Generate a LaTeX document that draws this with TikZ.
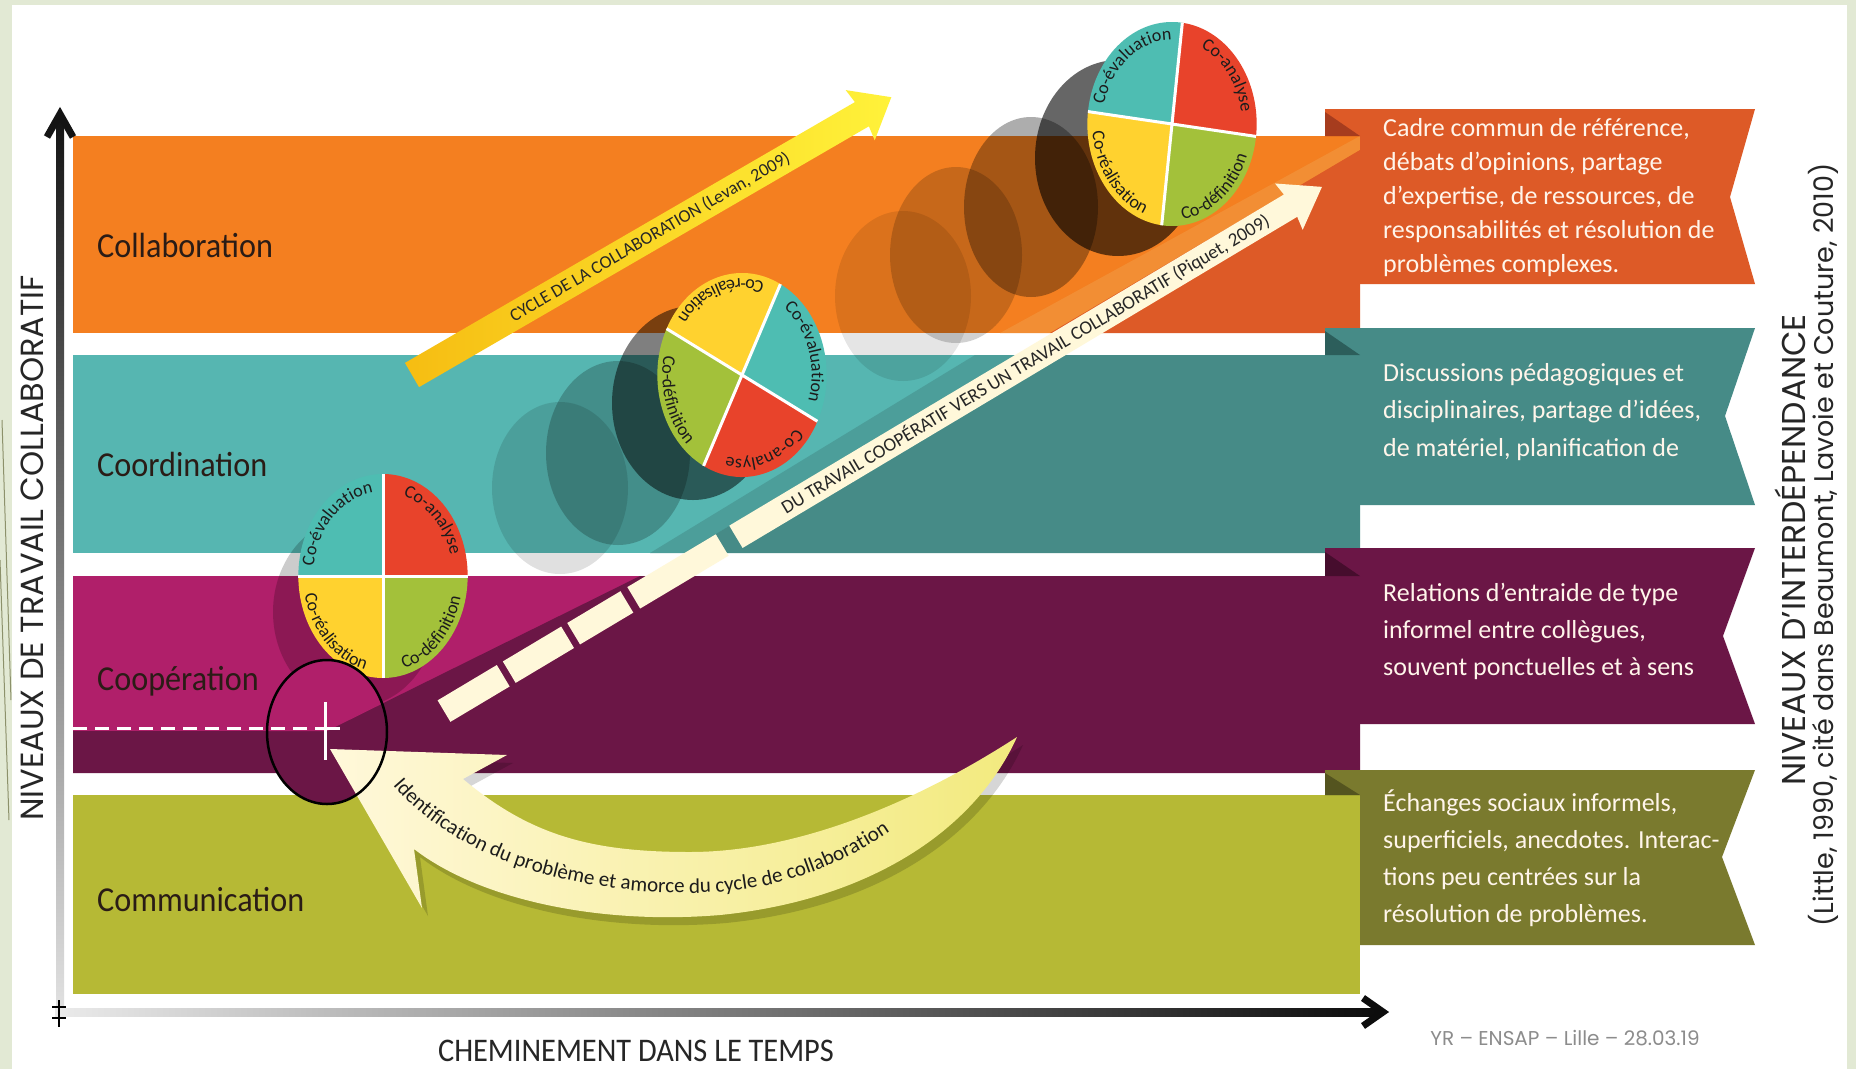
\documentclass[tikz,border=0pt]{standalone}
\usepackage{fontspec}
\setmainfont{Carlito}
\newfontfamily\condfont{Carlito}[FakeStretch=0.92]
\newfontfamily\geofont{Poppins}
\usetikzlibrary{decorations.text}

\definecolor{slidegreen}{HTML}{E2E9D4}
\definecolor{slideline}{HTML}{8C916B}
\definecolor{orangeL}{HTML}{F47F20}
\definecolor{orangeS}{HTML}{F28E34}
\definecolor{orangeD}{HTML}{DD5A27}
\definecolor{orangeF}{HTML}{A63C1E}
\definecolor{tealL}{HTML}{56B6B1}
\definecolor{tealS}{HTML}{4C9E9A}
\definecolor{tealD}{HTML}{468B87}
\definecolor{tealF}{HTML}{2C5E5B}
\definecolor{magL}{HTML}{B01F6A}
\definecolor{magD}{HTML}{6B1646}
\definecolor{magF}{HTML}{460D2D}
\definecolor{oliveL}{HTML}{B6B935}
\definecolor{oliveD}{HTML}{7A7A2E}
\definecolor{oliveF}{HTML}{54541F}
\definecolor{pieteal}{HTML}{4EBDB2}
\definecolor{piered}{HTML}{E8432B}
\definecolor{pieyellow}{HTML}{FFD22F}
\definecolor{piegreen}{HTML}{A3C13A}
\definecolor{pieink}{HTML}{1C1C1C}
\definecolor{cream}{HTML}{FFF8DA}
\definecolor{creamY}{HTML}{F2EA7E}
\definecolor{goldA}{HTML}{F6BD12}
\definecolor{goldB}{HTML}{FFF23A}
\definecolor{ribbontext}{HTML}{FFF5EA}
\definecolor{labelink}{HTML}{2A1C16}
\definecolor{footgrey}{HTML}{8C8C8C}

\newcommand\pxfont[1]{\fontsize{#1}{#1}\selectfont}
\newcommand\pietext{\pxfont{18}\color{pieink}}

% four-quadrant cycle disc: centre x, centre y (downwards), rotation
\newcommand\quadpie[3]{%
  \begin{scope}[shift={(#1,-#2)},xscale=0.83,rotate=#3]
    \fill[pieteal] (0,0) -- (90:102) arc[start angle=90,end angle=180,radius=102] -- cycle;
    \fill[piered] (0,0) -- (0:102) arc[start angle=0,end angle=90,radius=102] -- cycle;
    \fill[pieyellow] (0,0) -- (180:102) arc[start angle=180,end angle=270,radius=102] -- cycle;
    \fill[piegreen] (0,0) -- (270:102) arc[start angle=270,end angle=360,radius=102] -- cycle;
    \draw[white,line width=3pt] (0:102) -- (180:102) (90:102) -- (270:102);
    \path[decorate,decoration={text along path,text align=center,text={|\pietext|Co-évaluation}}]
      (179:84) arc[start angle=179,end angle=91,radius=84];
    \path[decorate,decoration={text along path,text align=center,text={|\pietext|Co-analyse}}]
      (89:84) arc[start angle=89,end angle=1,radius=84];
    \path[decorate,decoration={text along path,text align=center,text={|\pietext|Co-réalisation}}]
      (181:96) arc[start angle=181,end angle=269,radius=96];
    \path[decorate,decoration={text along path,text align=center,text={|\pietext|Co-définition}}]
      (271:96) arc[start angle=271,end angle=359,radius=96];
  \end{scope}}

\tikzset{
  bandlabel/.style={anchor=base west,inner sep=0pt,font=\condfont\pxfont{35},text=labelink},
  ribbonline/.style={anchor=base west,inner sep=0pt,font=\pxfont{26},text=ribbontext},
  trail/.style={fill=black,fill opacity=#1},
  sidelabel/.style={rotate=90,inner sep=0pt,font=\geofont\pxfont{#1},text=black!85},
}

\begin{document}
\begin{tikzpicture}[x=1pt,y=1pt]
\useasboundingbox (0,0) rectangle (1856,-1069);

% slide background
\fill[slidegreen] (0,0) rectangle (1856,-1069);
\fill[white] (12,-5) rectangle (1847,-1069);
\draw[slideline,line width=1pt] (2,-420) -- (11,-700);
\draw[slideline,line width=1pt] (0,-560) -- (9,-820);

% ---------- level bands ----------
% Collaboration
\fill[orangeL] (73,-136) rectangle (1360,-333);
\fill[orangeS] (1000,-333) -- (1360,-136) -- (1360,-150) -- (1050,-333) -- cycle;
\fill[orangeD] (1050,-333) -- (1360,-150) -- (1360,-333) -- cycle;
% Coordination
\fill[tealL] (73,-355) rectangle (1360,-553);
\fill[tealS] (650,-553) -- (975,-355) -- (1015,-355) -- (684,-553) -- cycle;
\fill[tealD] (684,-553) -- (1015,-355) -- (1360,-355) -- (1360,-553) -- cycle;
% Coopération
\fill[magL] (73,-576) rectangle (1360,-773);
\fill[magD] (73,-731) -- (327,-731) -- (640,-576) -- (1360,-576) -- (1360,-773) -- (73,-773) -- cycle;
% Communication
\fill[oliveL] (73,-795) rectangle (1360,-994);

% ---------- ribbons ----------
\fill[orangeD] (1325,-109) -- (1755,-109) -- (1730,-197) -- (1755,-284) -- (1360,-284) -- (1360,-136) -- (1325,-136) -- cycle;
\fill[orangeF] (1325,-112) -- (1325,-136) -- (1360,-136) -- cycle;
\fill[tealD] (1325,-328) -- (1755,-328) -- (1725,-416) -- (1755,-505) -- (1360,-505) -- (1360,-355) -- (1325,-355) -- cycle;
\fill[tealF] (1325,-331) -- (1325,-355) -- (1360,-355) -- cycle;
\fill[magD] (1325,-548) -- (1755,-548) -- (1723,-636) -- (1755,-724) -- (1360,-724) -- (1360,-576) -- (1325,-576) -- cycle;
\fill[magF] (1325,-552) -- (1325,-576) -- (1360,-576) -- cycle;
\fill[oliveD] (1325,-770) -- (1755,-770) -- (1722,-857) -- (1755,-945) -- (1360,-945) -- (1360,-795) -- (1325,-795) -- cycle;
\fill[oliveF] (1325,-773) -- (1325,-795) -- (1360,-795) -- cycle;

\foreach \t [count=\i from 0] in {{Cadre commun de référence,},{débats d’opinions, partage},{d’expertise, de ressources, de},{responsabilités et résolution de},{problèmes complexes.}}
  \node[ribbonline] (cadre\i) at (1383,{-136-34*\i}) {\t};
\foreach \t [count=\i from 0] in {{Discussions pédagogiques et},{disciplinaires, partage d’idées,},{de matériel, planification de}}
  \node[ribbonline] (discussions\i) at (1383,{-381-37.5*\i}) {\t};
\foreach \t [count=\i from 0] in {{Relations d’entraide de type},{informel entre collègues,},{souvent ponctuelles et à sens}}
  \node[ribbonline] (relations\i) at (1383,{-601-37*\i}) {\t};
\foreach \t [count=\i from 0] in {{Échanges sociaux informels,},{superficiels, anecdotes. Interac-},{tions peu centrées sur la},{résolution de problèmes.}}
  \node[ribbonline] (echanges\i) at (1383,{-811-37*\i}) {\t};

% ---------- trailing discs ----------
\fill[trail=.2] (355,-612) ellipse[x radius=82,y radius=95];
\fill[trail=.12] (560,-488) ellipse[x radius=68,y radius=86];
\fill[trail=.22] (618,-453) ellipse[x radius=72,y radius=92];
\fill[trail=.5] (693,-403) ellipse[x radius=81,y radius=97];
\fill[trail=.1] (903,-296) ellipse[x radius=68,y radius=85];
\fill[trail=.18] (956,-255) ellipse[x radius=66,y radius=88];
\fill[trail=.32] (1031,-207) ellipse[x radius=67,y radius=90];
\fill[trail=.6] (1118,-158) ellipse[x radius=83,y radius=98];

% ---------- cycle discs ----------
\quadpie{383}{576}{0}
\quadpie{742}{375}{-117}
\quadpie{1172}{124}{-7}

% ---------- Levan arrow ----------
\path[left color=goldA,right color=goldB] (404.98,-362.89) -- (854.9,-102.1) -- (845.7,-90.1) -- (891.3,-97.2) -- (874.7,-140.3) -- (868.9,-126.3) -- (419.02,-387.11) -- cycle;
\node[rotate=30.1,inner sep=0pt,font=\pxfont{18},text=black!85] (cyclelabel) at (650,-237.1) {CYCLE DE LA COLLABORATION (Levan, 2009)};

% ---------- Piquet arrow ----------
\begin{scope}[shift={(444,-711.1)},rotate=30.84]
  \fill[cream] (0,-12.5) rectangle (69,12.5);
  \fill[cream] (76,-12.5) rectangle (144,12.5);
  \fill[cream] (151,-12.5) rectangle (213,12.5);
  \fill[cream] (221,-12.5) rectangle (324,12.5);
  \fill[cream] (340,-13) -- (986,-13) -- (984,-27) -- (1022.6,0) -- (984,27) -- (986,13) -- (340,13) -- cycle;
  \node[rotate=30.84,inner sep=0pt,font=\pxfont{19},text=black!85] (piquetlabel) at (677,0) {DU TRAVAIL COOPÉRATIF VERS UN TRAVAIL COLLABORATIF (Piquet, 2009)};
\end{scope}

% ---------- starting point of the cycle ----------
\begin{scope}
  \clip (327,-732) ellipse[x radius=60,y radius=72];
  \fill[magD] (260,-650) rectangle (400,-810);
  \fill[magL] (260,-731) -- (327,-731) -- (640,-576) -- (260,-576) -- cycle;
\end{scope}
\draw[white,line width=3pt,dash pattern=on 14pt off 8pt] (73,-728) -- (318,-728);
\draw[white,line width=3pt] (318,-728) -- (340,-728) (325,-702) -- (325,-760);

% ---------- curved arrow ----------
\fill[black,opacity=.16] (336,-757) -- (513,-763) -- (469,-787) .. controls (536,-843) and (596,-860) .. (696,-860) .. controls (806,-860) and (926,-808) .. (1023,-745) .. controls (981,-838) and (876,-908) .. (726,-923) .. controls (606,-933) and (486,-908) .. (420,-857) -- (428,-916) -- cycle;
\path[left color=cream,right color=creamY] (330,-749) -- (507,-755) -- (463,-779) .. controls (530,-835) and (590,-852) .. (690,-852) .. controls (800,-852) and (920,-800) .. (1017,-737) .. controls (975,-830) and (870,-900) .. (720,-915) .. controls (600,-925) and (480,-900) .. (414,-849) -- (422,-908) -- cycle;
\path[decorate,decoration={text along path,text={|\pxfont{21}\color{pieink}|Identification du problème et amorce du cycle de collaboration}}]
  (393,-785) .. controls (455,-858) and (570,-893) .. (690,-893) .. controls (800,-893) and (880,-850) .. (960,-775);
\draw[black,line width=2.5pt] (327,-732) ellipse[x radius=60,y radius=72];

% ---------- band names ----------
\node[bandlabel] (collab) at (97,-257) {Collaboration};
\node[bandlabel] (coord) at (97,-476) {Coordination};
\node[bandlabel] (coop) at (97,-690) {Coopération};
\node[bandlabel] (comm) at (97,-911) {Communication};

% ---------- axes ----------
\shade[top color=black!92,bottom color=black!12] (56,-118) rectangle (64,-1008);
\draw[black!92,line width=7pt,line join=miter] (47,-137) -- (60,-114) -- (73,-137);
\shade[left color=black!8,right color=black!95] (55,-1008) rectangle (1378,-1016);
\draw[black!95,line width=7pt,line join=miter] (1363,-998) -- (1383,-1012) -- (1363,-1026);
\draw[black,line width=2pt] (59,-1000) -- (59,-1027);
\draw[black,line width=1.5pt] (52,-1007) -- (66,-1007) (52,-1018) -- (66,-1018);

\node[inner sep=0pt,font=\condfont\pxfont{33},text=black!85] (timeaxis) at (636,-1051) {CHEMINEMENT DANS LE TEMPS};
\node[sidelabel=32] (levelaxis) at (32,-548) {NIVEAUX DE TRAVAIL COLLABORATIF};
\node[sidelabel=33] (interdep) at (1790,-550) {NIVEAUX D’INTERDÉPENDANCE};
\node[sidelabel=27] (source) at (1823,-545) {(Little, 1990, cité dans Beaumont, Lavoie et Couture, 2010)};

\node[inner sep=0pt,font=\geofont\pxfont{20},text=footgrey] (footer) at (1565,-1038) {YR – ENSAP – Lille – 28.03.19};
\end{tikzpicture}
\end{document}
